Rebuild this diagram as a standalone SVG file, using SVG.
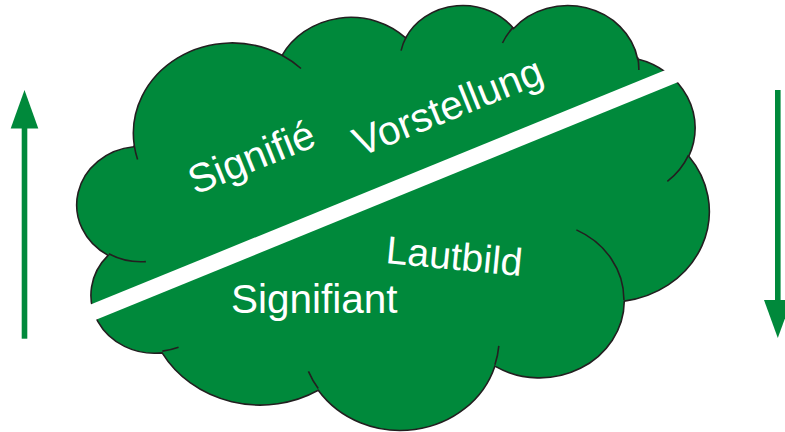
<svg xmlns="http://www.w3.org/2000/svg" width="785" height="432" viewBox="0 0 785 432">
  <defs>
    <style>
      .cloud-fill { fill: #00893B; stroke: #231F20; stroke-width: 1.6; }
      .cloud-line { fill: none; stroke: #231F20; stroke-width: 1.6; }
      .label { font-family: "Liberation Sans", Arial, sans-serif; font-size: 40.5px; fill: #FFFFFF; }
      .arrow { fill: #00893B; }
    </style>
  </defs>
  <rect width="785" height="432" fill="#FFFFFF"/>

  <!-- Cloud outline in a 43200-unit box, scaled to the page -->
  <g id="cloud" transform="translate(77.23 4.16) scale(0.014625 0.009834)">
    <path class="cloud-fill" vector-effect="non-scaling-stroke"
      d="M3900,14370
         A6753,9190 0 0 1 14005,5202
         A5333,7267 0 0 1 22457,3428
         A4365,5945 0 0 1 29835,2477
         A4857,6595 0 0 1 38319,5574
         A5333,7273 0 0 1 41819,15458
         A6775,9220 0 0 1 37404,30200
         A5785,7867 0 0 1 28555,36810
         A6752,9215 0 0 1 16480,39261
         A7720,10543 0 0 1 5805,35463
         A4360,5918 0 0 1 2114,25541
         A4345,5945 0 0 1 3863,14497 Z"/>
    <!-- inner lobe creases -->
    <path class="cloud-line" vector-effect="non-scaling-stroke"
      d="M4693,26177 A4345,5945 0 0 1 2160,25380
         M6928,34899 A4360,5918 0 0 1 5820,35280
         M16478,39090 A6752,9215 0 0 1 15809,37348
         M28827,34751 A6752,9215 0 0 1 28561,36661
         M34129,22954 A5785,7867 0 0 1 37380,30090
         M41798,15354 A5333,7273 0 0 1 40350,18030
         M38324,5426 A4857,6595 0 0 1 38400,6689
         M29078,3952 A4857,6595 0 0 1 29820,2339
         M22141,4720 A4365,5945 0 0 1 22500,3332
         M14000,5192 A6753,9190 0 0 1 15300,6540
         M4127,15789 A6753,9190 0 0 1 3900,14372"/>
  </g>

  <!-- white dividing bar -->
  <g id="divider">
    <line x1="85" y1="315.5" x2="690" y2="68.7" stroke="#FFFFFF" stroke-width="16"/>
  </g>

  <g id="signifie"><text class="label" x="195" y="195" transform="rotate(-22 195 195)">Signifié</text></g>
  <g id="vorstellung"><text class="label" x="360" y="157" transform="rotate(-22 360 157)">Vorstellung</text></g>
  <g id="lautbild"><text class="label" x="385" y="263" transform="rotate(5.5 385 263)" style="font-size:39px">Lautbild</text></g>
  <g id="signifiant"><text class="label" x="231" y="313">Signifiant</text></g>

  <g id="connectors">
    <!-- upward arrow, left -->
    <rect class="arrow" x="21.7" y="126" width="5.6" height="212.7"/>
    <polygon class="arrow" points="24.5,90 10.7,128.5 38.3,128.5"/>
    <!-- downward arrow, right -->
    <rect class="arrow" x="775" y="90" width="5.6" height="212"/>
    <polygon class="arrow" points="764,300 791.6,300 777.8,338"/>
  </g>
</svg>
